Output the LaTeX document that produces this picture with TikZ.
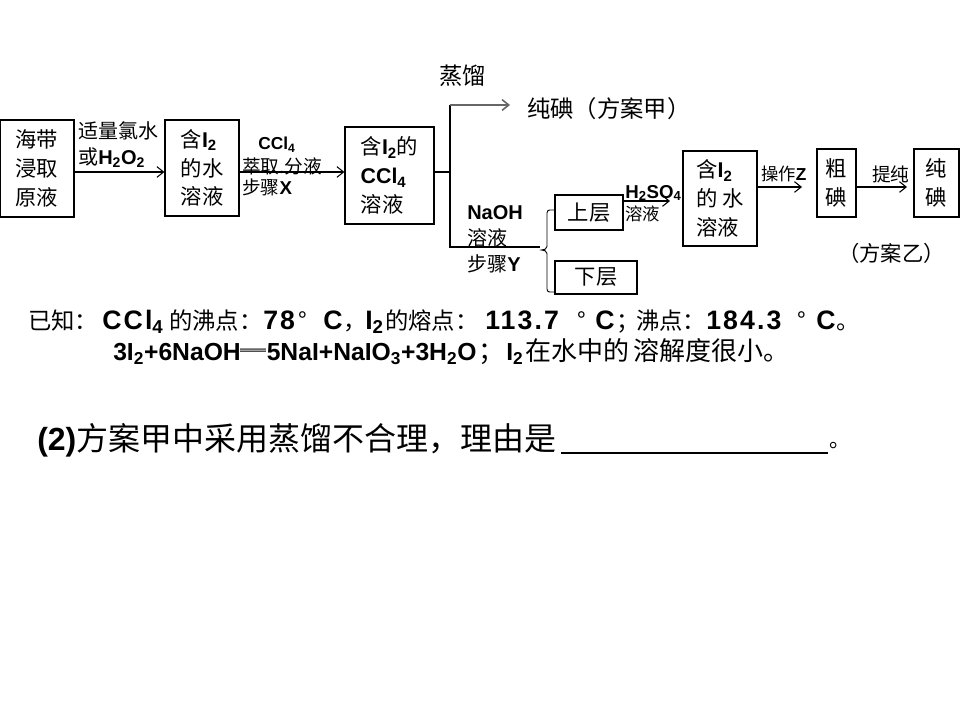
\documentclass[tikz,border=0pt]{standalone}
\usepackage{fontspec}
\setmainfont{Noto Sans CJK SC}
\newfontfamily\arialf{Liberation Sans}
\newfontfamily\arialsp[LetterSpace=8]{Liberation Sans}
\usetikzlibrary{arrows.meta}
\newcommand\lb[1]{{\arialf\bfseries #1}}
\newcommand\lbb[1]{{\arialsp\bfseries\fontsize{20}{22}\selectfont #1}}
\newcommand\lbc[1]{{\arialf\bfseries\fontsize{18.5}{22}\selectfont #1}}
\newcommand\sbs[1]{\textsubscript{#1}}
\newcommand\seg[2]{\makebox[#1\dimexpr0.75pt\relax][l]{#2}}
\begin{document}
\begin{tikzpicture}[x=0.75pt,y=-0.75pt,
  box/.style={draw, line width=0.9pt, inner sep=0pt, align=left, font=\fontsize{16}{21.5}\selectfont},
  sz/.style 2 args={minimum width=#1*0.75pt, minimum height=#2*0.75pt},
  arr/.style={line width=0.8pt, -{Straight Barb[length=5pt,width=8pt]}},
  ln/.style={line width=0.8pt},
  lab/.style={inner sep=0pt, anchor=west, font=\fontsize{15}{17}\selectfont},
  slab/.style={inner sep=0pt, anchor=west, font=\fontsize{13}{15}\selectfont},
  txt/.style={inner sep=0pt, anchor=west, font=\fontsize{17.5}{20}\selectfont},
  fact/.style={inner sep=0pt, anchor=west, font=\fontsize{17.5}{20}\selectfont}]
\useasboundingbox[fill=white] (0,0) rectangle (960,720);
% boxes
\node[box, sz={74}{97}, align=center] (b1) at (37,168.5) {海带\\浸取\\原液};
\node[box, sz={74}{96}] (b2) at (202,168) {含\lb{I\sbs{2}}\\的水\\溶液};
\node[box, sz={89}{97}] (b3) at (389.5,175.5) {含\lb{I\sbs{2}}的\\\lb{CCl\sbs{4}}\\溶液};
\node[box, sz={68}{35}, align=center] (up) at (589,212.5) {上层};
\node[box, sz={82}{33}, align=center] (dn) at (596,277.5) {下层};
\node[box, sz={74}{95}] (b4) at (720,198.5) {含\lb{I\sbs{2}}\\的 水\\溶液};
\node[box, sz={39}{68}, align=center] (b5) at (836.5,183) {粗\\碘};
\node[box, sz={45}{68}, align=center] (b6) at (936.5,183) {纯\\碘};
% connectors
\draw[arr] (b1.east |- 0,172) -- (b2.west |- 0,172);
\draw[arr] (b2.east |- 0,172) -- (b3.west |- 0,172);
\coordinate (j) at (450,172);
\coordinate (jt) at (450,105);
\coordinate (jb) at (450,247);
\coordinate (pa) at (510,105);
\coordinate (bt) at (540,247);
\draw[ln] (b3.east |- j) -- (j);
\draw[ln] (jt) -- (jb) -- (bt);
\draw[arr, draw=gray!80!black, line width=1.2pt] (jt) -- (pa);
% brace
\coordinate (bu) at (up.west |- 0,210);
\coordinate (bd) at (dn.west |- 0,292);
\draw[ln, line width=0.7pt] (bu) -- (549.5,210) to[out=180,in=90] (547,213) -- (547,246.5)
  to[out=-90,in=0] (541.5,250) to[out=0,in=90] (547,253.5) -- (547,289) to[out=-90,in=180] (549.5,292) -- (bd);
\coordinate (ua) at (670,201);
\draw[arr] (up.east |- ua) -- (ua);
\draw[arr] (b4.east |- 0,187) -- (802,187);
\draw[arr] (b5.east |- 0,187) -- (907,187);
% labels
\node[lab] (l1) at (78,131) {适量氯水};
\node[lab] (l2) at (78,158) {或\lb{H\sbs{2}O\sbs{2}}};
\node[slab] (l3) at (258,145) {\lb{CCl\sbs{4}}};
\node[slab, font=\fontsize{14}{15}\selectfont] (l4) at (242,166) {萃取.分液};
\node[slab, font=\fontsize{14}{15}\selectfont] (l5) at (242,187) {步骤\lb{X}};
\node[txt] (l6) at (439,76) {蒸馏};
\node[txt] (l7) at (527,109) {纯碘（方案甲）};
\node[lab] (l8) at (467,213) {\lb{NaOH}};
\node[lab] (l9) at (467,238) {溶液};
\node[lab] (l10) at (467,264) {步骤\lb{Y}};
\node[slab, font=\fontsize{14}{15}\selectfont] (l11) at (625,193) {\lb{H\sbs{2}SO\sbs{4}}};
\node[slab] (l12) at (625,214) {溶液};
\node[slab] (l13) at (761,174) {操作\lb{Z}};
\node[slab, font=\fontsize{14}{15}\selectfont] (l14) at (872,174) {提纯};
\node[lab, font=\fontsize{16}{17}\selectfont] (l15) at (838,253) {（方案乙）};
% known facts
\node[fact] (k1) at (28,322)
  {\seg{74}{已知：}\seg{67}{\lbb{CCl\sbs{4}}}\seg{94}{的沸点：}\seg{35}{\lbb{78}}\seg{25}{°}\seg{20}{\lbb{C}}\seg{22}{，}\seg{20}{\lbb{I\sbs{2}}}\seg{100}{的熔点：}\seg{92}{\lbb{113.7}}\seg{18}{°}\seg{21}{\lbb{C}}\seg{20}{；}\seg{70}{沸点：}\seg{91}{\lbb{184.3}}\seg{19}{°}\seg{20}{\lbb{C}}。};
\node[fact, font=\fontsize{19.5}{20}\selectfont] (k2) at (113,352)
  {\seg{365}{\lbc{3I\sbs{2}+6NaOH}═\lbc{5NaI+NaIO\sbs{3}+3H\sbs{2}O}}\seg{28}{；}\seg{19}{\lbc{I\sbs{2}}}\seg{108}{在水中的}溶解度很小。};
\node[inner sep=0pt, anchor=west, font=\fontsize{24}{28}\selectfont] (q) at (37,440)
  {\lb{(2)}方案甲中采用蒸馏不合理，理由是};
\coordinate (ul1) at (561,453);
\coordinate (ul2) at (828,453);
\draw[line width=2.2pt] (ul1) -- (ul2);
\node[inner sep=0pt, anchor=west, font=\fontsize{16}{20}\selectfont] (dot) at (829,446) {。};
\end{tikzpicture}
\end{document}
